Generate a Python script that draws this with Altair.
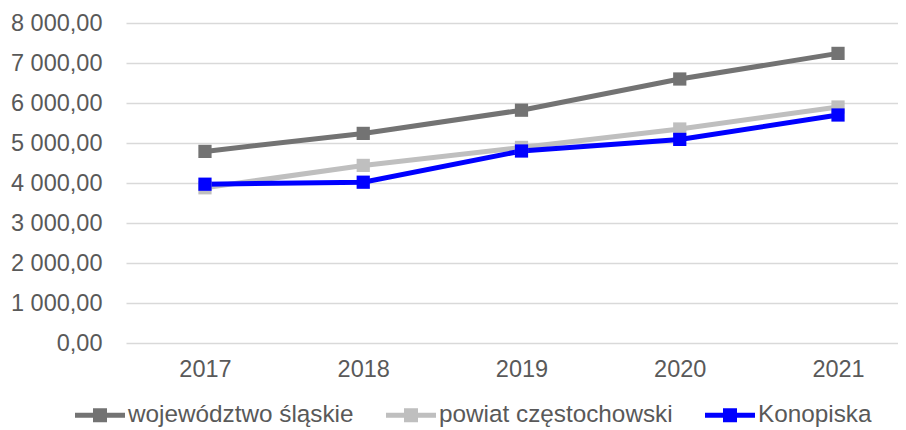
import altair as alt
import pandas as pd

years = [2017, 2018, 2019, 2020, 2021]
series = ["województwo śląskie", "powiat częstochowski", "Konopiska"]
slaskie = [4790, 5240, 5820, 6600, 7240]
powiat = [3880, 4440, 4890, 5350, 5900]
konopiska = [3970, 4020, 4800, 5090, 5700]
colors = ["#737373", "#BFBFBF", "#0000FF"]
y_ticks = [0, 1000, 2000, 3000, 4000, 5000, 6000, 7000, 8000]

rows = []
for name, vals in zip(series, [slaskie, powiat, konopiska]):
    for yr, v in zip(years, vals):
        rows.append({"rok": yr, "seria": name, "wartosc": v})
df = pd.DataFrame(rows)

FONT = "Liberation Sans"
TXT = "#595959"

x = alt.X("rok:Q",
          scale=alt.Scale(domain=[2016.501, 2021.379], nice=False, zero=False),
          axis=alt.Axis(values=years, format="d", title=None, grid=False, domain=False,
                        ticks=False, labelPadding=14, labelFontSize=23.5, labelColor=TXT,
                        labelFont=FONT))
y = alt.Y("wartosc:Q",
          scale=alt.Scale(domain=[0, 8000], nice=False),
          axis=alt.Axis(values=y_ticks, title=None, domain=False, ticks=False,
                        labelPadding=24, labelFontSize=23.5, labelColor=TXT, labelFont=FONT,
                        gridColor="#D9D9D9", gridWidth=1.3,
                        labelExpr="replace(replace(format(datum.value, ',.2f'), ',', ' '), '.', ',')"))

color_scale = alt.Scale(domain=series, range=colors)

lines = alt.Chart(df).mark_line(strokeWidth=5).encode(
    x=x, y=y,
    color=alt.Color("seria:N", scale=color_scale, sort=series,
                    legend=alt.Legend(orient="none", legendX=-51, legendY=367,
                                      direction="horizontal", title=None,
                                      symbolType="M-1,-0.1H1V0.1H-1ZM-0.28,-0.28H0.28V0.28H-0.28Z",
                                      symbolSize=2500, symbolStrokeWidth=0, symbolOpacity=1,
                                      labelFontSize=24.3, labelColor=TXT, labelFont=FONT,
                                      labelOffset=3, columnPadding=32, labelLimit=400)),
    detail="seria:N",
)

squares = alt.Chart(df).mark_square(size=175, opacity=1, filled=True).encode(
    x=x, y=y,
    fill=alt.Fill("seria:N", scale=color_scale, sort=series, legend=None),
)

chart = alt.layer(lines, squares).properties(
    width=772, height=320,
    autosize=alt.AutoSizeParams(type="none"),
    padding={"left": 118, "top": 15, "right": 0, "bottom": 87},
).configure_view(stroke=None)

chart.save("out.html", embed_options={"renderer": "svg", "actions": False})
